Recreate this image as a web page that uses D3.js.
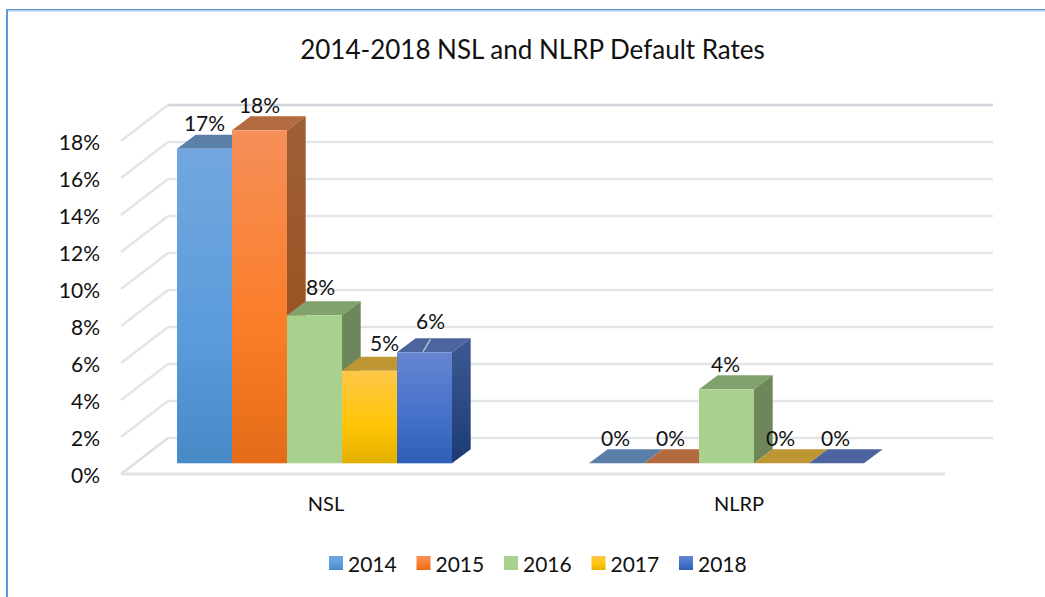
<!DOCTYPE html>
<html><head><meta charset="utf-8">
<script src="https://cdn.jsdelivr.net/npm/d3@7"></script>
<style>html,body{margin:0;padding:0;background:#fff}svg{display:block}text{font-family:Lato,"Open Sans",sans-serif;fill:#111}</style>
</head><body><svg id="c" width="1045" height="597"></svg>
<script>
const title = "2014-2018 NSL and NLRP Default Rates";
const categories = ["NSL", "NLRP"];
const seriesNames = ["2014", "2015", "2016", "2017", "2018"];
const values2014 = [17, 0];
const values2015 = [18, 0];
const values2016 = [8, 4];
const values2017 = [5, 0];
const values2018 = [6, 0];
const yTicks = [0, 2, 4, 6, 8, 10, 12, 14, 16, 18];
const allValues = [values2014, values2015, values2016, values2017, values2018];

// styling
const front = [["#72a7de","#5a9bdc","#478ac6"],["#f68f59","#fa7d27","#e46c18"],["#a9d18e","#a9d18e","#a9d18e"],["#ffc848","#ffc405","#e3b000"],["#6685d0","#4370cb","#2e5fb6"]];
const sides = [["#4f7ba6","#3a6a9a"],["#9e5f37","#9a4c15"],["#6d865a","#6d865a"],["#ab8a2e","#a07d10"],["#3d5a92","#1c3b75"]];
const tops = ["#5a80aa","#b46a3f","#82a26d","#be9633","#4d659f"];
const depthX = 18.7, depthY = 14;
const wallX = 47, wallY = 25.3, floorDrop = 36;
const labelSize = 21;
// label nudges [series][category] for the manually-placed labels of the source
const nudgeX = [[0,-1],[0,-1],[6,-1],[15,-1],[6,-1]];
const nudgeY = [[0,0],[0,0],[-2.5,0],[-2,0],[-5.5,0]];

const svg = d3.select("#c");
const defs = svg.append("defs");
front.forEach((c,i)=>{
  const g = defs.append("linearGradient").attr("id","f"+i).attr("x1",0).attr("y1",0).attr("x2",0).attr("y2",1);
  [0,.6,1].forEach((o,k)=>g.append("stop").attr("offset",o).attr("stop-color",c[k]));
  const s = defs.append("linearGradient").attr("id","s"+i).attr("x1",0).attr("y1",0).attr("x2",0).attr("y2",1);
  [0,1].forEach((o,k)=>s.append("stop").attr("offset",o).attr("stop-color",sides[i][k]));
});

// chart frame
svg.append("rect").attr("x",6).attr("y",9).attr("width",1039).attr("height",1.5).attr("fill","#5b9bd5");
svg.append("rect").attr("x",6).attr("y",10.5).attr("width",1039).attr("height",1).attr("fill","#a9cdec");
svg.append("rect").attr("x",6).attr("y",9).attr("width",2).attr("height",588).attr("fill","#5b9bd5");

const y = d3.scaleLinear().domain([0,18]).range([463.3,130.3]);
const x0 = d3.scaleBand().domain(categories).range([108.5,932.5]);
const x1 = d3.scaleBand().domain(seriesNames).range([0,275]);
const barStart = c => x0(c) + (x0.bandwidth()-x1.range()[1])/2;

// walls and gridlines
const leftX = 168, rightX = 993;
const grid = svg.append("g");
yTicks.forEach(v=>{
  const yb = y(v)-wallY;
  grid.append("path").attr("d",`M${leftX-wallX},${yb+floorDrop}L${leftX},${yb}`)
    .attr("fill","none").attr("stroke",v===0?"#dcdfe3":"#e2e4e8").attr("stroke-width",2.4);
  grid.append("path").attr("d",`M${leftX},${yb}H${rightX}`)
    .attr("stroke",v===18?"#d2d5db":"#e3e5e8").attr("stroke-width",2.6);
});
grid.append("path").attr("d",`M${leftX-wallX},${y(0)-wallY+floorDrop}H945`).attr("stroke","#e1e3e7").attr("stroke-width",3);

// bars
categories.forEach((c,ci)=>{
  seriesNames.forEach((s,si)=>{
    const v = allValues[si][ci];
    const xl = barStart(c)+x1(s), xr = xl+x1.bandwidth(), yt = y(v), yb = y(0);
    const g = svg.append("g");
    g.append("path").attr("d",`M${xl},${yt}L${xl+depthX},${yt-depthY}H${xr+depthX}L${xr},${yt}Z`).attr("fill",tops[si]);
    if(v>0){
      g.append("path").attr("d",`M${xr},${yt}L${xr+depthX},${yt-depthY}V${yb-depthY}L${xr},${yb}Z`).attr("fill",`url(#s${si})`);
      g.append("rect").attr("x",xl).attr("y",yt).attr("width",x1.bandwidth()).attr("height",yb-yt).attr("fill",`url(#f${si})`);
    }
  });
});

// labels
const lf = d3.format(".0f");
categories.forEach((c,ci)=>{
  seriesNames.forEach((s,si)=>{
    const v = allValues[si][ci];
    svg.append("text").attr("x",barStart(c)+x1(s)+x1.bandwidth()/2+nudgeX[si][ci]).attr("y",y(v)-26+nudgeY[si][ci])
      .attr("text-anchor","middle").attr("dominant-baseline","central").attr("font-size",labelSize).text(lf(v)+"%");
  });
});
// leader line of the 2018 NSL label
const lx = barStart("NSL")+x1("2018")+x1.bandwidth()/2;
svg.append("path").attr("d",`M${lx-1.5},${y(6)-0.5}L${lx+6},${y(6)-13}`).attr("stroke","#cfd3da").attr("stroke-width",1.2);

// axes
const yAxis = d3.axisLeft(d3.scaleLinear().domain([0,18]).range([475.5,142.5])).tickValues(yTicks).tickSize(0).tickPadding(0).tickFormat(d=>d+"%");
svg.append("g").attr("transform","translate(100,0)").call(yAxis).call(g=>{
  g.select(".domain").remove();
  g.selectAll("text").attr("font-size",21).attr("fill","#111");
}).attr("font-family",null);
const xAxis = d3.axisBottom(d3.scaleBand().domain(categories).range([119.5,945.5])).tickSize(0).tickPadding(0);
svg.append("g").attr("transform","translate(0,497)").call(xAxis).call(g=>{
  g.select(".domain").remove();
  g.selectAll("text").attr("font-size",20).attr("dy","0.71em").attr("fill","#111");
}).attr("font-family",null);

// title
svg.append("text").attr("x",532.5).attr("y",49).attr("text-anchor","middle").attr("dominant-baseline","central").attr("font-size",26).text(title);

// legend
const legendX = d3.scalePoint().domain(seriesNames).range([329,679]);
const leg = svg.selectAll("g.leg").data(seriesNames).join("g").attr("class","leg").attr("transform",d=>`translate(${legendX(d)},556)`);
leg.append("rect").attr("width",14).attr("height",14).attr("fill",(d,i)=>`url(#f${i})`);
leg.append("text").attr("x",19).attr("y",7).attr("dominant-baseline","central").attr("font-size",21).text(d=>d);
</script></body></html>
